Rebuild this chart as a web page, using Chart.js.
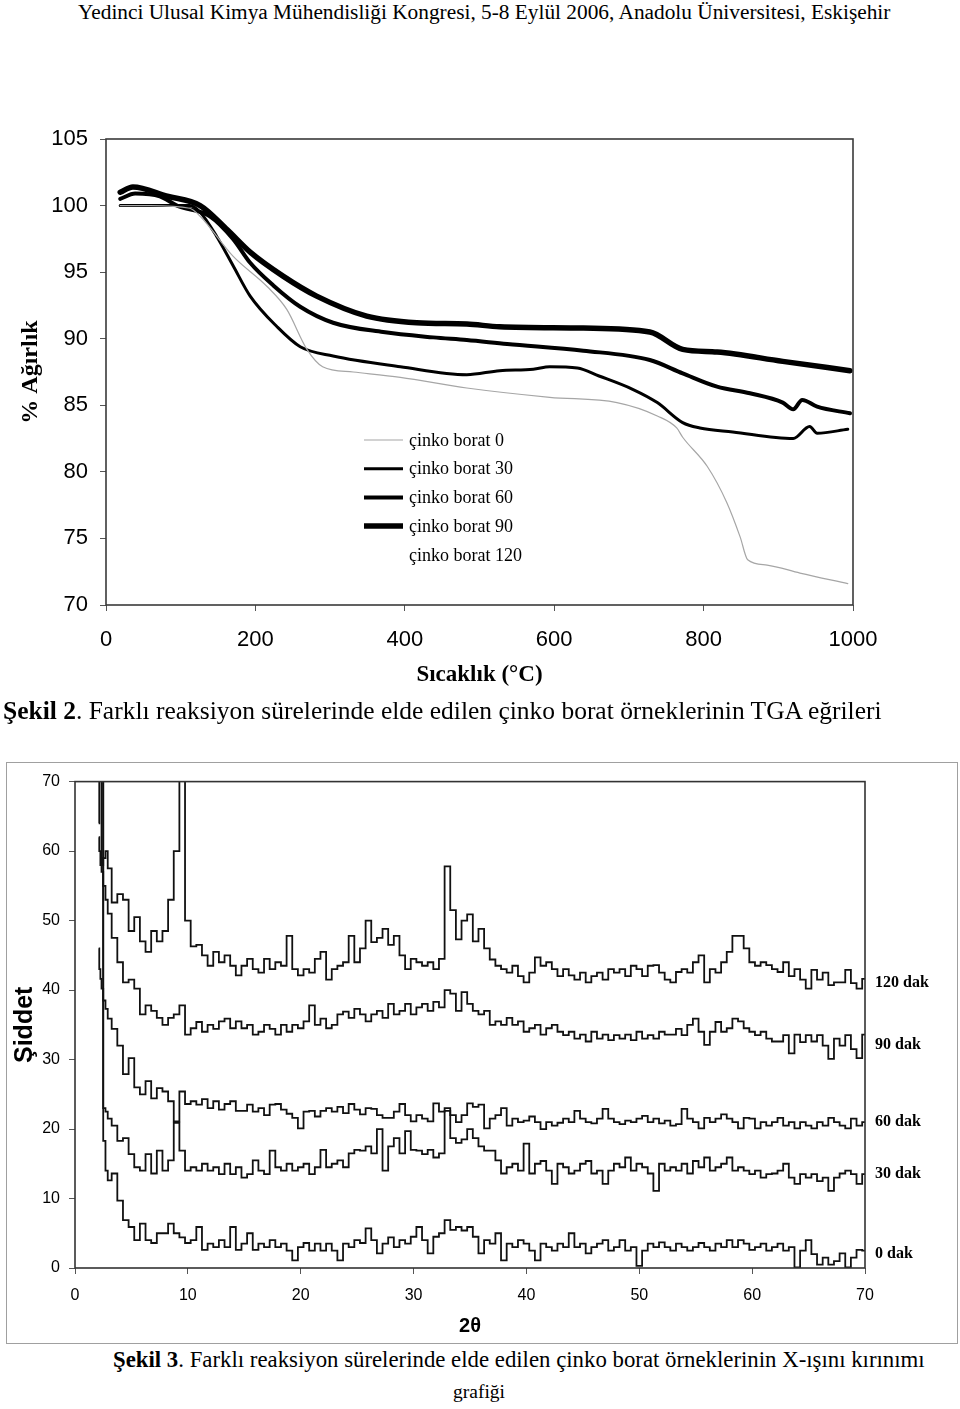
<!DOCTYPE html>
<html><head><meta charset="utf-8">
<script src="https://cdn.jsdelivr.net/npm/chart.js@4.4.1/dist/chart.umd.min.js"></script>
<style>
html,body{margin:0;padding:0;background:#fff;}
body{width:960px;height:1409px;position:relative;overflow:hidden;}
.txt{position:absolute;white-space:nowrap;font-family:"Liberation Serif","Times New Roman",serif;line-height:1;color:#000;}
#tgaWrap{position:absolute;left:0;top:100px;width:960px;height:600px;}
#xrdWrap{position:absolute;left:0;top:763px;width:960px;height:580px;}
#xrdFrame{position:absolute;left:6px;top:762px;width:952px;height:582px;box-sizing:border-box;border:1.5px solid #a0a0a0;pointer-events:none;}
</style></head><body>
<div class="txt" id="hdr">Yedinci Ulusal Kimya Mühendisliği Kongresi, 5-8 Eylül 2006, Anadolu Üniversitesi, Eskişehir</div>
<div id="tgaWrap"><canvas id="tga"></canvas></div>
<div class="txt" id="cap2"><b>Şekil 2</b>. Farklı reaksiyon sürelerinde elde edilen çinko borat örneklerinin TGA eğrileri</div>
<div id="xrdFrame"></div>
<div id="xrdWrap"><canvas id="xrd"></canvas></div>
<div class="txt" id="cap3a"><b>Şekil 3</b>. Farklı reaksiyon sürelerinde elde edilen çinko borat örneklerinin X-ışını kırınımı</div>
<div class="txt" id="cap3b">grafiği</div>
<script>
// ---------- TGA data (Şekil 2) ----------
const tgaLabels = ['çinko borat 0','çinko borat 30','çinko borat 60','çinko borat 90','çinko borat 120'];
const tgaXTicks = [0,200,400,600,800,1000];
const tgaYTicks = [70,75,80,85,90,95,100,105];

const tgaT0 = [19,59,112,126,170,216,242,269,290,331,394,483,594,684,738,764,772,805,831,849,859,885,929,993];
const tgaW0 = [100,100,99.8,99.2,96.2,93.9,92.2,89.2,87.9,87.5,87.1,86.3,85.6,85.2,84.2,83.3,82.6,80.4,77.7,75.1,73.4,73.0,72.4,71.6];

const tgaT30 = [19,112,126,148,170,193,229,260,304,394,483,527,572,594,631,660,705,738,772,795,839,920,942,952,993];
const tgaW30 = [100,100,99.5,97.7,95.5,93.2,90.9,89.4,88.7,87.9,87.3,87.6,87.7,87.9,87.8,87.2,86.2,85.2,83.7,83.3,83.0,82.5,83.4,82.9,83.2];

const tgaT60 = [19,39,72,95,139,170,193,224,260,304,371,438,483,537,639,728,772,818,862,906,920,932,952,996];
const tgaW60 = [100.5,100.9,100.7,100,99.2,97.5,95.7,94,92.4,91.2,90.5,90.1,89.9,89.6,89.1,88.4,87.4,86.4,85.9,85.2,84.7,85.4,84.9,84.4];

const tgaT90 = [19,36,82,126,162,193,237,282,349,416,483,527,639,728,772,818,906,996];
const tgaW90 = [101,101.4,100.7,100,98.2,96.5,94.7,93.2,91.7,91.2,91.1,90.9,90.8,90.5,89.2,89,88.3,87.6];

const tgaT120 = [19,126,193,282,416,527,728,818,906,996];
const tgaW120 = [101.2,100.1,96.6,93.3,91.3,91.0,90.6,89.1,88.4,87.7];

// ---------- XRD data (Şekil 3) ----------
const twoTheta = [2.1,2.2,2.3,2.4,2.6,2.8,
3,3.5,4,4.5,5,5.5,6,6.5,7,7.5,
8,8.5,9,9.5,10,10.5,11,11.5,12,12.5,
13,13.5,14,14.5,15,15.5,16,16.5,17,17.5,
18,18.5,19,19.5,20,20.5,21,21.5,22,22.5,
23,23.5,24,24.5,25,25.5,26,26.5,27,27.5,
28,28.5,29,29.5,30,30.5,31,31.5,32,32.5,
33,33.5,34,34.5,35,35.5,36,36.5,37,37.5,
38,38.5,39,39.5,40,40.5,41,41.5,42,42.5,
43,43.5,44,44.5,45,45.5,46,46.5,47,47.5,
48,48.5,49,49.5,50,50.5,51,51.5,52,52.5,
53,53.5,54,54.5,55,55.5,56,56.5,57,57.5,
58,58.5,59,59.5,60,60.5,61,61.5,62,62.5,
63,63.5,64,64.5,65,65.5,66,66.5,67,67.5,
68,68.5,69,69.5,70];

const xrd120 = [64,72,85,58,59,60,
57.5,52.6,53.8,53,48.5,50.5,47,45.5,48.5,47,
48.5,53,60,78,50,46.3,46.5,45,43.5,45.5,
44,45,43.5,42.1,43.5,44.5,43,42.5,44.5,43,
44,43.5,47.8,43,42.1,43,42.5,44.5,45.5,41.5,
43,43.5,44,47.8,44,46,50,46.9,47.5,48.8,
46.5,47.8,45,43,44.5,44,43.5,44,43,44.5,
57.8,51.5,47.3,50,50.9,47,48.8,46,44.4,43.5,
43,42.5,43.5,42,41.1,42.5,44.7,43.5,44,43,
42,43,42.1,41.5,42.5,41.1,42,42.5,41.5,43,
42.5,43,42,43.5,43,42,43.5,43.6,42.5,41.5,
41.1,42.6,43,42.5,44,45,41.1,43,42.5,44,
45.5,47.8,47.8,46,44,43.5,44,43.6,43,42.6,
44,42,43,41.5,40.2,42.9,41.5,42.5,40.7,41.1,
41.1,42.9,41,40.2,41.6];

const xrd90 = [62,60,58,57,55,53,
51,47.5,44,41.1,41.5,40.2,36.5,37.8,37,36,
35,36,36.5,37.8,33.6,34.5,35.4,34,35,34.4,
35.5,35.9,34.5,35.5,34.5,35,33.6,34,35,34.4,
33.6,35,34,35,34.5,35.5,37.8,35,35.9,34.5,
35,36.5,36.9,36,37.3,36.5,35.5,36.5,37,36,
38,36.5,37,38,36.5,37.5,38,37,38.3,37.5,
40,39.5,37,39.7,38,37,36.5,37,35,35.5,
35,36,35,35.5,34,34.5,35,33.6,34.5,35,
34,33.5,34,33,33.6,32.6,34,33,33.6,32.8,
33.5,33,33.6,32.8,34,33,33.5,33,34,33.6,
33.6,34.4,33.5,35,35.9,34,32.1,34,35.4,34,
34.5,35.9,35.5,34.5,34,33.5,34,33,32.6,32.6,
33.5,30.9,33.6,32.5,33.5,32.6,33.5,32,30.1,33,
32,33.5,31.5,30.2,33.6];

const xrd60 = [46,43,41.6,40.2,38.5,37.3,
35.9,34.4,32,27.9,30.2,26,25,26.9,24.4,25.9,
25.4,24,21.1,25.4,23.6,24,23.5,24.3,23,24,
22.8,23.6,24,22.6,22.6,23.5,22.5,23,22,23.5,
23.6,22.8,22.2,21.6,20.1,22.5,22.6,21.8,22.6,23,
22.5,23.2,22.3,23.6,22.8,22.1,23,22.9,22,21.6,
21.6,22.5,23.6,22,21.1,22,21.5,21.1,23.7,22.5,
23,22,21,22,23.7,23.2,23.5,20.1,21.5,22,
23,20.5,21.5,21,21.2,21.8,21,20,21,20.5,
20.9,21.5,21,22.6,21.5,21,20.8,21.5,22.9,21.5,
21,20.7,21.2,21,21.5,21.9,21,21.5,20.8,21.2,
20.5,20.7,22.9,21.5,21,20.1,21.6,21,21.5,22.1,
21.5,21,20.1,21.6,21.5,20.1,21,20.5,21,21.6,
20.5,21,20.1,21,20.5,20.1,21,20.5,21.6,21,
20.5,20.1,21.5,20.5,21];

const xrd30 = [95,92,88,80,23,22.5,
21.5,20.5,18.3,18.7,16.4,14.5,14,16.4,13.6,16.9,
14,15.5,20.9,16.9,14,14.5,14,15,14,14.5,
13.5,15,13.5,14.5,13,13.5,15.5,14,13.5,16.9,
14.5,14,15,14,14.5,15,13.5,14.5,17,14.5,
15,15.5,14.5,16.5,17,16.9,17.5,16.5,20,14,
17.5,18.7,16.5,19.7,17,16.9,16.4,17,15.9,16.5,
22.6,18.7,18,18.5,20,18.7,17.5,16.9,16.9,15.5,
13.6,14.5,15,14,17.9,13.6,15,15.4,14,12.1,
15,14.5,13.6,14,15,15.4,13.6,14,12.1,14,
15,14.5,15.9,14,15,14.5,13.6,11.1,15,14,
14.5,14,15,13.6,15.4,14.5,15.9,14,14.5,15,
15.9,14,14.5,14,13.5,14,13,13.5,13.6,14,
15,13,12.1,13.5,13,13.5,12.5,13,11.1,13,
13.6,14,13.5,12.1,13.5];

const xrd0 = [100,98,95,90,18.3,14,
12.6,13.6,9.7,6.9,5.9,4,6.4,4,3.6,5,
5,6.4,5,4.4,3.6,4,5.9,2.6,3.5,3,
4,3,5.9,2.6,3.5,5,2.6,3.5,3,4,
3,3.5,2.5,1.1,3,3.6,2.5,3.5,2.5,3.5,
2.5,1.1,3.5,3,4,3.6,5.7,4,2.1,3.5,
4.4,3,4,3.5,4.5,5.9,4,2.1,4.5,5,
6.9,5.5,5.9,5.4,5.9,4.5,2.1,4,3.5,5,
1.1,3.5,3,4,3.5,2.5,1.1,3.5,3,2.5,
3.5,3,5,3,3.5,2.1,3,3.5,4,2.5,
3,4,2.5,3,0.3,2.5,3.5,3,3.7,3,
2.5,3.5,3,2.5,3,3.6,3,2.5,3.5,3,
4,3,4,3.5,2.6,3,3.5,2.5,3,3.5,
2.5,3,0.1,2.5,4,2,0.5,1.5,0.5,1,
2.1,0.1,1.5,2.6,2.5];

const xrdLabels = ['120 dak','90 dak','60 dak','30 dak','0 dak'];
const xrdLabelLevels = [41.1, 32.1, 21.0, 13.6, 2.1];

// ---------- text placement ----------
function placeText(id, left, width, cy){
  const el = document.getElementById(id);
  el.style.fontSize = '20px';
  const w = el.getBoundingClientRect().width;
  const fs = 20*width/w;
  el.style.fontSize = fs + 'px';
  el.style.left = left + 'px';
  el.style.top = (cy - fs*0.55) + 'px';
}
placeText('hdr', 78, 813, 14);
placeText('cap2', 3, 879, 712);
placeText('cap3a', 113, 812, 1362);
placeText('cap3b', 453, 52, 1393);

// ---------- Chart.js ----------
Chart.defaults.font.family = '"Liberation Sans", Arial, sans-serif';
Chart.defaults.color = '#000';

const pts = (xs, ys) => xs.map((x, i) => ({x: x, y: ys[i]}));
const plain = v => String(v);

const framePlugin = {
  id: 'frame',
  afterDraw(chart, args, opts) {
    const {ctx, chartArea: {left, top, right, bottom}} = chart;
    ctx.save();
    ctx.strokeStyle = opts.color || '#333';
    ctx.lineWidth = opts.width || 1.5;
    ctx.strokeRect(left, top, right - left, bottom - top);
    ctx.restore();
  }
};

const tgaLegendPlugin = {
  id: 'tgaLegend',
  afterDraw(chart, args, opts) {
    const ctx = chart.ctx;
    ctx.save();
    ctx.font = opts.font;
    ctx.textBaseline = 'middle';
    ctx.textAlign = 'left';
    chart.data.datasets.forEach((ds, i) => {
      const y = opts.top + i * opts.rowHeight;
      ctx.strokeStyle = ds.borderColor;
      ctx.lineWidth = ds.borderWidth;
      ctx.beginPath();
      ctx.moveTo(opts.x, y);
      ctx.lineTo(opts.x + opts.len, y);
      ctx.stroke();
      ctx.fillStyle = '#000';
      ctx.fillText(ds.label, opts.x + opts.len + opts.gap, y + 1);
    });
    ctx.restore();
  }
};

const dakPlugin = {
  id: 'dakLabels',
  afterDraw(chart, args, opts) {
    const ctx = chart.ctx, ys = chart.scales.y;
    ctx.save();
    ctx.font = opts.font;
    ctx.fillStyle = '#000';
    ctx.textBaseline = 'middle';
    ctx.textAlign = 'left';
    xrdLabels.forEach((t, i) => ctx.fillText(t, opts.x, ys.getPixelForValue(xrdLabelLevels[i])));
    ctx.restore();
  }
};

new Chart(document.getElementById('tga'), {
  type: 'line',
  data: {
    datasets: [
      {label: tgaLabels[0], data: pts(tgaT0, tgaW0), borderColor: '#a6a6a6', borderWidth: 1.2, order: 1},
      {label: tgaLabels[1], data: pts(tgaT30, tgaW30), borderColor: '#000', borderWidth: 3, order: 2},
      {label: tgaLabels[2], data: pts(tgaT60, tgaW60), borderColor: '#000', borderWidth: 4, order: 3},
      {label: tgaLabels[3], data: pts(tgaT90, tgaW90), borderColor: '#000', borderWidth: 5.5, order: 4},
      {label: tgaLabels[4], data: pts(tgaT120, tgaW120), borderColor: '#ffffff', borderWidth: 1.5, order: 5}
    ]
  },
  options: {
    responsive: true, maintainAspectRatio: false, animation: false,
    layout: {padding: {left: 0, right: 107, top: 39, bottom: 0}},
    elements: {point: {radius: 0}, line: {cubicInterpolationMode: 'monotone', borderJoinStyle: 'round', borderCapStyle: 'round'}},
    plugins: {
      legend: {display: false}, tooltip: {enabled: false},
      frame: {color: '#3a3a3a', width: 1.6},
      tgaLegend: {x: 364, len: 39, gap: 6, top: 340, rowHeight: 28.7, font: '18px "Liberation Serif", "Times New Roman", serif'}
    },
    scales: {
      x: {
        type: 'linear', min: 0, max: 1000,
        afterFit(s) { s.height = 95; },
        afterBuildTicks(s) { s.ticks = tgaXTicks.map(v => ({value: v})); },
        ticks: {font: {size: 22}, padding: 16, color: '#000', maxRotation: 0, callback: plain},
        grid: {drawOnChartArea: false, tickLength: 6, color: '#555', lineWidth: 1},
        border: {display: false},
        title: {display: true, text: 'Sıcaklık (°C)', color: '#000', font: {family: '"Liberation Serif", "Times New Roman", serif', weight: 'bold', size: 23}, padding: {top: 0, bottom: 11}}
      },
      y: {
        type: 'linear', min: 70, max: 105,
        afterFit(s) { s.width = 106; },
        afterBuildTicks(s) { s.ticks = tgaYTicks.map(v => ({value: v})); },
        ticks: {font: {size: 22}, padding: 12, color: '#000', callback: plain},
        grid: {drawOnChartArea: false, tickLength: 6, color: '#555', lineWidth: 1},
        border: {display: false},
        title: {display: true, text: '% Ağırlık', color: '#000', font: {family: '"Liberation Serif", "Times New Roman", serif', weight: 'bold', size: 24}, padding: {top: 16, bottom: 0}}
      }
    }
  },
  plugins: [framePlugin, tgaLegendPlugin]
});

const xrdSeries = [xrd120, xrd90, xrd60, xrd30, xrd0];
new Chart(document.getElementById('xrd'), {
  type: 'line',
  data: {
    datasets: xrdSeries.map((s, i) => ({
      label: xrdLabels[i], data: pts(twoTheta, s),
      borderColor: '#111', borderWidth: 1.8, stepped: 'middle'
    }))
  },
  options: {
    responsive: true, maintainAspectRatio: false, animation: false,
    layout: {padding: {left: 0, right: 95, top: 15, bottom: 0}},
    elements: {point: {radius: 0}, line: {tension: 0, borderJoinStyle: 'miter'}},
    plugins: {
      legend: {display: false}, tooltip: {enabled: false},
      frame: {color: '#333', width: 1.6},
      dakLabels: {x: 875, font: 'bold 16px "Liberation Serif", "Times New Roman", serif'}
    },
    scales: {
      x: {
        type: 'linear', min: 0, max: 70,
        afterFit(s) { s.height = 75; },
        ticks: {stepSize: 10, font: {size: 16}, padding: 12, color: '#000', maxRotation: 0, callback: plain},
        grid: {drawOnChartArea: false, tickLength: 6, color: '#555', lineWidth: 1},
        border: {display: false},
        title: {display: true, text: '2θ', color: '#000', font: {weight: 'bold', size: 20}, padding: {top: 0, bottom: 5}}
      },
      y: {
        type: 'linear', min: 0, max: 70,
        afterFit(s) { s.width = 75; },
        ticks: {stepSize: 10, font: {size: 16}, padding: 9, color: '#000', callback: plain},
        grid: {drawOnChartArea: false, tickLength: 6, color: '#555', lineWidth: 1},
        border: {display: false},
        title: {display: true, text: 'Şiddet', color: '#000', font: {weight: 'bold', size: 25}, padding: {top: 10, bottom: 0}}
      }
    }
  },
  plugins: [framePlugin, dakPlugin]
});
</script>
</body></html>
